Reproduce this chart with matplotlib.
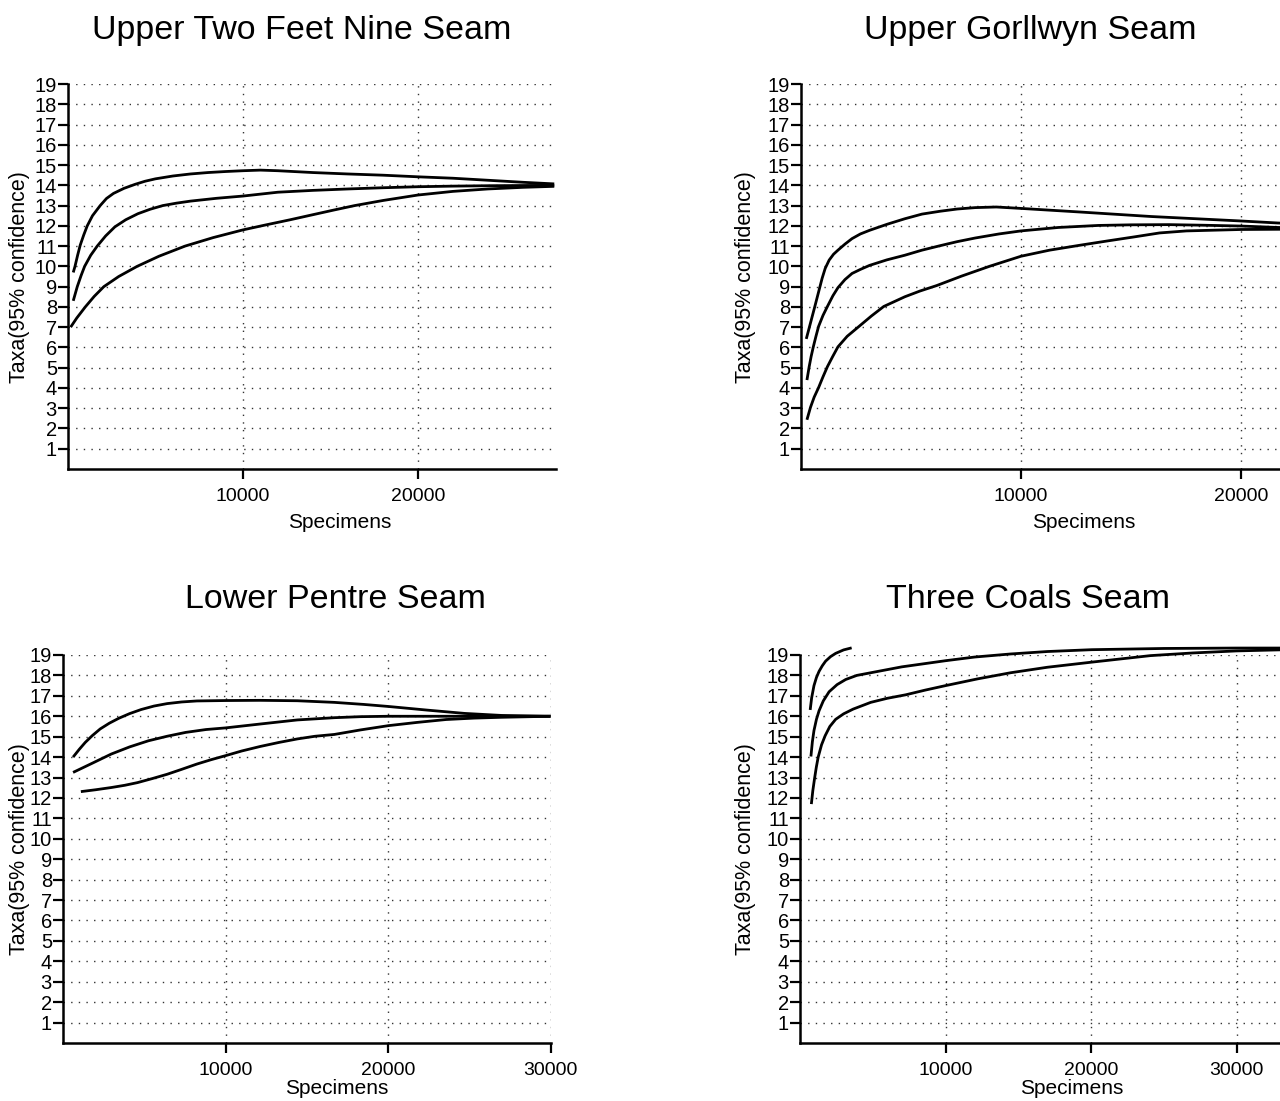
import matplotlib
matplotlib.use('Agg')
import matplotlib.pyplot as plt

plt.rcParams['font.family'] = ['Liberation Sans', 'DejaVu Sans']

# ---------------- data ----------------
# Upper Two Feet Nine Seam
utfn_up_x = [300, 400, 550, 700, 900, 1100, 1400, 1840, 2200, 2600, 3200, 3840, 4400, 5000, 6000, 7000, 8000,
             9000, 10000, 11000, 12000, 14000, 16000, 18000, 20000, 22000, 24000, 26000, 27800]
utfn_up_y = [9.7, 10.0, 10.55, 11.05, 11.55, 12.0, 12.5, 13.0, 13.35, 13.6, 13.85, 14.05, 14.2, 14.32, 14.46,
             14.56, 14.63, 14.68, 14.72, 14.75, 14.72, 14.63, 14.56, 14.5, 14.42, 14.35, 14.25, 14.15, 14.07]
utfn_mid_x = [300, 530, 750, 950, 1300, 1670, 2150, 2680, 3300, 4000, 4700, 5420, 6200, 7000, 8500, 10000,
              12000, 14000, 16000, 18000, 20000, 22000, 24000, 26000, 27800]
utfn_mid_y = [8.3, 9.0, 9.55, 10.0, 10.55, 11.0, 11.5, 11.95, 12.3, 12.6, 12.82, 13.0, 13.12, 13.22, 13.36,
              13.47, 13.66, 13.75, 13.82, 13.88, 13.93, 13.96, 13.98, 13.99, 14.0]
utfn_lo_x = [150, 500, 990, 1500, 2050, 2900, 3950, 5200, 6690, 8300, 10000, 11330, 12700, 14000, 15200, 16390,
             18000, 20000, 22000, 24000, 26000, 27800]
utfn_lo_y = [7.0, 7.45, 8.0, 8.52, 9.0, 9.5, 10.0, 10.5, 11.0, 11.42, 11.8, 12.05, 12.3, 12.55, 12.78, 13.0,
             13.25, 13.52, 13.7, 13.82, 13.9, 13.95]

# Upper Gorllwyn Seam
ug_up_x = [240, 600, 960, 1100, 1280, 1480, 1680, 2000, 2320, 2700, 3120, 3920, 4720, 5500, 6320, 7100, 7920,
           8880, 10000, 12720, 15920, 20000, 21680, 24000, 26000]
ug_up_y = [6.42, 7.9, 9.41, 9.9, 10.31, 10.6, 10.8, 11.1, 11.37, 11.6, 11.78, 12.08, 12.35, 12.58, 12.72, 12.83,
           12.9, 12.93, 12.86, 12.68, 12.46, 12.24, 12.14, 12.05, 11.95]
ug_mid_x = [270, 370, 460, 560, 680, 800, 1000, 1200, 1450, 1680, 2000, 2320, 2700, 3120, 3900, 4720, 5500, 6320,
            7100, 7920, 9000, 10000, 11700, 13520, 15000, 16720, 18300, 20000, 21680, 24000, 26000]
ug_mid_y = [4.39, 5.04, 5.55, 6.03, 6.55, 7.04, 7.58, 8.02, 8.55, 8.95, 9.35, 9.65, 9.85, 10.05, 10.32, 10.55,
            10.8, 11.02, 11.22, 11.4, 11.6, 11.75, 11.92, 12.02, 12.05, 12.06, 12.03, 11.99, 11.92, 11.88, 11.87]
ug_lo_x = [270, 430, 600, 800, 1000, 1200, 1440, 1680, 2100, 2640, 3200, 3760, 4720, 5400, 6160, 7300, 8560,
           10000, 11300, 12720, 13900, 15120, 16300, 17520, 20000, 21680, 24000, 26000]
ug_lo_y = [2.43, 3.04, 3.55, 4.02, 4.55, 5.05, 5.55, 6.03, 6.55, 7.04, 7.55, 8.02, 8.5, 8.78, 9.05, 9.52, 10.0,
           10.5, 10.8, 11.05, 11.25, 11.45, 11.65, 11.75, 11.82, 11.83, 11.84, 11.85]

# Lower Pentre Seam
lp_up_x = [620, 1000, 1370, 1800, 2290, 2850, 3430, 4100, 4810, 5600, 6410, 7300, 8240, 10000, 12130, 14420,
           16700, 18500, 20020, 22430, 24710, 27000, 30000]
lp_up_y = [14.0, 14.38, 14.72, 15.05, 15.38, 15.66, 15.9, 16.13, 16.33, 16.5, 16.62, 16.7, 16.75, 16.77, 16.78,
           16.76, 16.68, 16.58, 16.48, 16.3, 16.14, 16.04, 16.0]
lp_mid_x = [620, 1800, 2970, 4100, 5260, 6400, 7550, 8800, 10000, 12130, 14420, 16700, 18300, 20020, 23570, 30000]
lp_mid_y = [13.25, 13.7, 14.15, 14.5, 14.8, 15.02, 15.21, 15.35, 15.43, 15.62, 15.82, 15.93, 15.98, 16.0, 16.0,
            16.0]
lp_lo_x = [1100, 2000, 2970, 3800, 4580, 5500, 6410, 7300, 8240, 9100, 10000, 11000, 12130, 13300, 14420, 15500,
           16700, 18300, 20020, 21800, 23570, 25300, 27000, 30000]
lp_lo_y = [12.31, 12.4, 12.51, 12.62, 12.75, 12.95, 13.16, 13.4, 13.66, 13.87, 14.07, 14.3, 14.52, 14.72, 14.89,
           15.02, 15.11, 15.33, 15.54, 15.7, 15.84, 15.91, 15.95, 16.0]

# Three Coals Seam
tc_up_x = [700, 800, 960, 1130, 1310, 1530, 1760, 2100, 2450, 3000, 3550]
tc_up_y = [16.31, 16.9, 17.5, 17.9, 18.2, 18.47, 18.7, 18.92, 19.08, 19.25, 19.35]
tc_mid_x = [750, 850, 960, 1130, 1310, 1600, 2000, 2550, 3140, 3900, 4860, 7000, 10000, 12000, 14470, 17000,
            20050, 25000, 30000, 34000]
tc_mid_y = [14.03, 14.75, 15.3, 15.85, 16.27, 16.75, 17.2, 17.55, 17.8, 18.0, 18.13, 18.42, 18.72, 18.9, 19.05,
            19.17, 19.26, 19.32, 19.34, 19.34]
tc_lo_x = [780, 880, 1000, 1120, 1250, 1480, 1730, 2050, 2450, 3000, 3650, 4860, 6000, 7260, 8600, 10000, 12200,
           14470, 17000, 20050, 24090, 27000, 30000, 34000]
tc_lo_y = [11.7, 12.35, 12.95, 13.5, 14.0, 14.6, 15.05, 15.5, 15.85, 16.12, 16.35, 16.68, 16.88, 17.05, 17.28,
           17.5, 17.83, 18.13, 18.4, 18.65, 18.97, 19.1, 19.2, 19.27]

y_ticks = list(range(1, 20))
titles = ["Upper Two Feet Nine Seam", "Upper Gorllwyn Seam", "Lower Pentre Seam", "Three Coals Seam"]
y_label = "Taxa(95% confidence)"
x_label = "Specimens"

# ---------------- layout ----------------
W, H = 1280, 1101
fig = plt.figure(figsize=(12.8, 11.01), dpi=100)


def add_axes(left_px, right_px, top_px, bottom_px):
    return fig.add_axes([left_px / W, 1 - bottom_px / H, (right_px - left_px) / W, (bottom_px - top_px) / H])


def style(ax, xmax, xticks):
    ax.set_xlim(0, xmax)
    ax.set_ylim(0, 19)
    for s in ('top', 'right'):
        ax.spines[s].set_visible(False)
    for s in ('left', 'bottom'):
        ax.spines[s].set_linewidth(1.8)
    ax.spines['left'].set_bounds(0, 19)
    ax.set_yticks(y_ticks)
    ax.set_yticklabels([str(v) for v in y_ticks])
    ax.set_xticks(xticks)
    ax.set_xticklabels([str(v) for v in xticks])
    ax.tick_params(axis='both', direction='out', length=7, width=1.6, color='black')
    ax.tick_params(axis='y', pad=1, labelsize=14.5)
    ax.tick_params(axis='x', pad=7, labelsize=14)
    ax.grid(True, linestyle=(0, (1, 4.5)), linewidth=1.0, color='#333333')
    ax.set_axisbelow(True)


def draw(ax, xs_list, ys_list):
    for xs, ys in zip(xs_list, ys_list):
        ax.plot(xs, ys, color='black', lw=2.0, clip_on=False, solid_capstyle='butt',
                solid_joinstyle='round', zorder=3)


ax1 = add_axes(68, 556, 84, 469)
style(ax1, 27900, [10000, 20000])
draw(ax1, [utfn_up_x, utfn_mid_x, utfn_lo_x], [utfn_up_y, utfn_mid_y, utfn_lo_y])

ax2 = add_axes(801, 1417, 84, 469)
style(ax2, 28000, [10000, 20000])
draw(ax2, [ug_up_x, ug_mid_x, ug_lo_x], [ug_up_y, ug_mid_y, ug_lo_y])

ax3 = add_axes(63, 550.5, 655, 1043)
style(ax3, 30000, [10000, 20000, 30000])
draw(ax3, [lp_up_x, lp_mid_x, lp_lo_x], [lp_up_y, lp_mid_y, lp_lo_y])

ax4 = add_axes(800, 1382, 655, 1043)
style(ax4, 40000, [10000, 20000, 30000])
draw(ax4, [tc_up_x, tc_mid_x, tc_lo_x], [tc_up_y, tc_mid_y, tc_lo_y])


def ftext(px, py, s, **kw):
    fig.text(px / W, 1 - py / H, s, ha='center', va='center', **kw)


title_pos = [(302, 30), (1030, 30), (335, 600), (1028, 600)]
for (px, py), t in zip(title_pos, titles):
    ftext(px, py, t, fontsize=24.5)

for px, py in [(20, 277), (746, 277), (20, 849), (746, 849)]:
    ftext(px, py, y_label, fontsize=15.5, rotation=90)

for px, py in [(340, 522), (1084, 522), (337, 1089), (1072, 1089)]:
    ftext(px, py, x_label, fontsize=15)

fig.savefig('out.png', dpi=100)
